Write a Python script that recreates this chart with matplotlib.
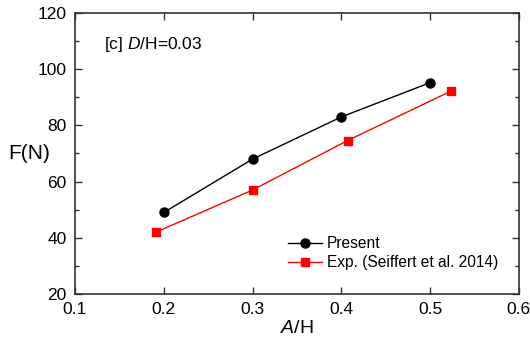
import matplotlib.pyplot as plt
from matplotlib.ticker import MultipleLocator

plt.rcParams['font.family'] = ['Liberation Sans', 'DejaVu Sans']
plt.rcParams['mathtext.fontset'] = 'custom'
plt.rcParams['mathtext.it'] = 'Liberation Sans:italic'
plt.rcParams['mathtext.rm'] = 'Liberation Sans'

# data
present_x = [0.2, 0.3, 0.4, 0.5]
present_f = [49, 68, 83, 95.2]
exp_x = [0.191, 0.3, 0.407, 0.523]
exp_f = [42, 57, 74.6, 92.1]

fig = plt.figure(figsize=(5.3, 3.5), dpi=100)
ax = fig.add_axes([0.1415, 0.16, 0.8375, 0.803])

ax.plot(present_x, present_f, color='black', lw=1, marker='o', ms=6.5, label='Present')
ax.plot(exp_x, exp_f, color='red', lw=1, marker='s', ms=6, label='Exp. (Seiffert et al. 2014)')

ax.set_xlim(0.1, 0.6)
ax.set_ylim(20, 120)
ax.xaxis.set_major_locator(MultipleLocator(0.1))
ax.yaxis.set_major_locator(MultipleLocator(20))
ax.yaxis.set_minor_locator(MultipleLocator(10))
ax.tick_params(which='both', direction='in', top=True, right=True, labelsize=12.5, color='#333333')
ax.tick_params(which='major', length=5, width=1)
ax.tick_params(which='minor', length=3, width=1)
ax.tick_params(axis='x', which='major', pad=6)
ax.tick_params(axis='y', which='major', pad=6)
for s in ax.spines.values():
    s.set_linewidth(1.2)
    s.set_color('#333333')

ax.set_xlabel('$A$/H', fontsize=14, labelpad=2)
ax.set_ylabel('F(N)', fontsize=15, rotation=0, ha='center', va='center')
ax.yaxis.set_label_coords(-0.104, 0.5)
ax.text(0.065, 0.87, '[c] $D$/H=0.03', transform=ax.transAxes, fontsize=12.5)

ax.legend(loc='upper left', bbox_to_anchor=(0.48, 0.205), frameon=False, fontsize=11.2,
          borderpad=0, borderaxespad=0,
          handlelength=2.2, handletextpad=0.3, labelspacing=0.25)

fig.savefig('out.png', dpi=100)
